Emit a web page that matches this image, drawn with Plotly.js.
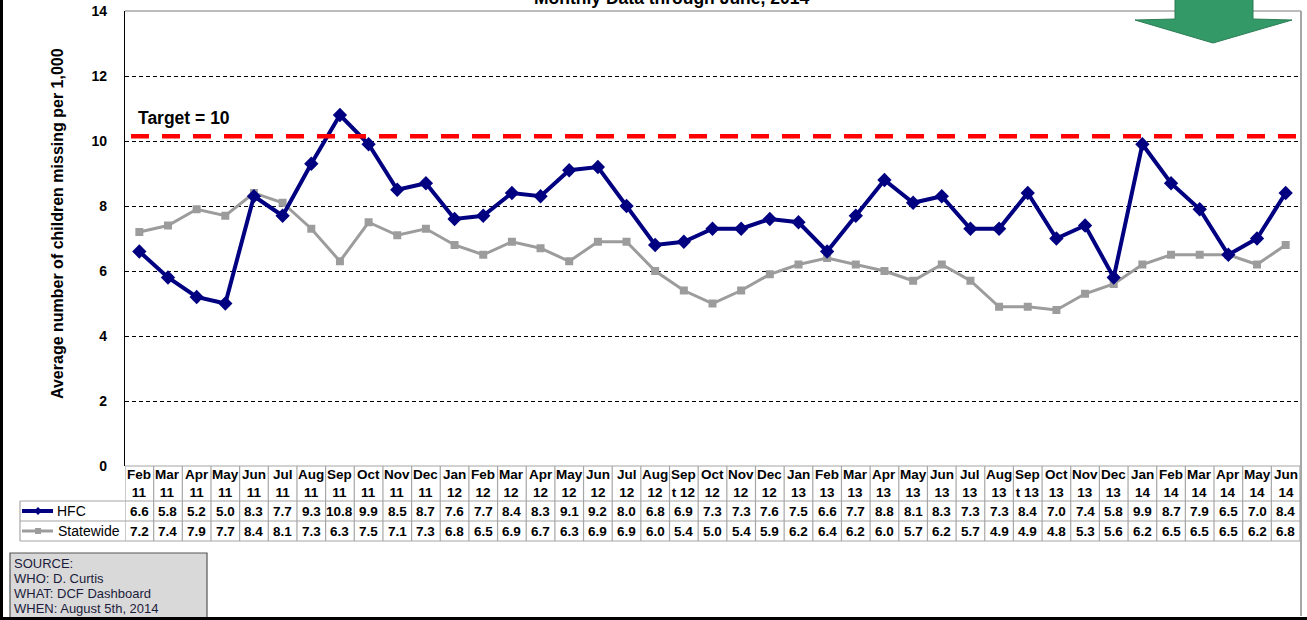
<!DOCTYPE html>
<html>
<head>
<meta charset="utf-8">
<script src="https://cdn.plot.ly/plotly-3.0.1.min.js"></script>
<style>html,body{margin:0;padding:0;background:#fff;}#chart{width:1307px;height:620px;}</style>
</head>
<body>
<div id="chart"></div>
<script>
// ---- Data ----
const months = ["Feb 11","Mar 11","Apr 11","May 11","Jun 11","Jul 11","Aug 11","Sep 11","Oct 11","Nov 11","Dec 11",
  "Jan 12","Feb 12","Mar 12","Apr 12","May 12","Jun 12","Jul 12","Aug 12","Sept 12","Oct 12","Nov 12","Dec 12",
  "Jan 13","Feb 13","Mar 13","Apr 13","May 13","Jun 13","Jul 13","Aug 13","Sept 13","Oct 13","Nov 13","Dec 13",
  "Jan 14","Feb 14","Mar 14","Apr 14","May 14","Jun 14"];
const hfc = [6.6,5.8,5.2,5.0,8.3,7.7,9.3,10.8,9.9,8.5,8.7,
  7.6,7.7,8.4,8.3,9.1,9.2,8.0,6.8,6.9,7.3,7.3,7.6,
  7.5,6.6,7.7,8.8,8.1,8.3,7.3,7.3,8.4,7.0,7.4,5.8,
  9.9,8.7,7.9,6.5,7.0,8.4];
const statewide = [7.2,7.4,7.9,7.7,8.4,8.1,7.3,6.3,7.5,7.1,7.3,
  6.8,6.5,6.9,6.7,6.3,6.9,6.9,6.0,5.4,5.0,5.4,5.9,
  6.2,6.4,6.2,6.0,5.7,6.2,5.7,4.9,4.9,4.8,5.3,5.6,
  6.2,6.5,6.5,6.5,6.2,6.8];
const seriesNames = ["HFC","Statewide"];
const targetLabel = "Target = 10";
const targetLineLevel = 10.15;
const chartTitle = "Monthly Data through June, 2014";
const yTitle = "Average number of children missing per 1,000";
const sourceLines = ["SOURCE:","WHO: D. Curtis","WHAT: DCF Dashboard","WHEN: August 5th, 2014"];

// ---- Geometry helpers (pixel -> paper) ----
const W = 1307, H = 620, L = 125, R = 1300, T = 11, B = 466;
const px = v => (v - L) / (R - L);
const py = v => (B - v) / (B - T);
const FONT = "Liberation Sans, Arial, sans-serif";
const idx = months.map((_, i) => i);

const traces = [
  {x: idx, y: statewide, name: seriesNames[1], type: "scatter", mode: "lines+markers",
   line: {color: "#9c9c9c", width: 3}, marker: {symbol: "square", size: 8, color: "#9c9c9c"}, cliponaxis: false},
  {x: idx, y: hfc, name: seriesNames[0], type: "scatter", mode: "lines+markers",
   line: {color: "#000080", width: 4}, marker: {symbol: "diamond", size: 11, color: "#000080"}, cliponaxis: false}
];

const shapes = [];
const annotations = [];
const gray = "#a6a6a6";
function pline(x0, y0, x1, y1, color, width, dash) {
  shapes.push({type: "line", xref: "paper", yref: "paper", x0: px(x0), y0: py(y0), x1: px(x1), y1: py(y1),
    line: {color: color, width: width, dash: dash || "solid"}, layer: "above"});
}
// target line
shapes.push({type: "line", xref: "paper", yref: "y", x0: px(131), x1: 1, y0: targetLineLevel, y1: targetLineLevel,
  line: {color: "#ff0000", width: 4.5, dash: "18px,13px"}, layer: "above"});
// plot frame
pline(L, T, R + 1, T, gray, 1.5);
pline(R + 1, T, R + 1, 616, gray, 2);
// outer borders
pline(1.5, 0, 1.5, 620, "#000", 3);
pline(0, 618.5, 1307, 618.5, "#000", 3);

// table
pline(L, 466, R, 466, gray, 1.2);
[501, 521, 541].forEach(y => pline(20, y, R, y, gray, 1.2));
pline(20, 501, 20, 541, gray, 1.2);
for (let i = 0; i <= months.length; i++) {
  shapes.push({type: "line", xref: "x", yref: "paper", x0: i - 0.5, x1: i - 0.5, y0: py(466), y1: py(541),
    line: {color: gray, width: 1.2}, layer: "above"});
}
months.forEach((m, i) => {
  annotations.push({xref: "x", yref: "paper", x: i, y: py(483.5), text: m.slice(0, 3) + "<br>" + m.slice(3).trim(),
    showarrow: false, font: {family: FONT, size: 13.5, color: "#000", weight: "bold"}, xanchor: "center", yanchor: "middle"});
  annotations.push({xref: "x", yref: "paper", x: i, y: py(511), text: hfc[i].toFixed(1),
    showarrow: false, font: {family: FONT, size: 13.5, color: "#000", weight: "bold"}, xanchor: "center", yanchor: "middle"});
  annotations.push({xref: "x", yref: "paper", x: i, y: py(531), text: statewide[i].toFixed(1),
    showarrow: false, font: {family: FONT, size: 13.5, color: "#000", weight: "bold"}, xanchor: "center", yanchor: "middle"});
});
// legend keys in table
pline(22, 511, 53, 511, "#000080", 4);
shapes.push({type: "path", xref: "paper", yref: "paper",
  path: `M${px(38)},${py(507)} L${px(42)},${py(511)} L${px(38)},${py(515)} L${px(34)},${py(511)} Z`,
  fillcolor: "#000080", line: {color: "#000080", width: 0}, layer: "above"});
pline(22, 531, 53, 531, "#9c9c9c", 3);
shapes.push({type: "rect", xref: "paper", yref: "paper", x0: px(35), x1: px(41), y0: py(528), y1: py(534),
  fillcolor: "#9c9c9c", line: {width: 0}, layer: "above"});
annotations.push({xref: "paper", yref: "paper", x: px(55), y: py(511), text: seriesNames[0], showarrow: false,
  font: {family: FONT, size: 14, color: "#000"}, xanchor: "left", yanchor: "middle"});
annotations.push({xref: "paper", yref: "paper", x: px(56), y: py(531), text: seriesNames[1], showarrow: false,
  font: {family: FONT, size: 14, color: "#000"}, xanchor: "left", yanchor: "middle"});

// source box
shapes.push({type: "rect", xref: "paper", yref: "paper", x0: px(10), x1: px(207), y0: py(553), y1: py(618),
  fillcolor: "#d9d9d9", line: {color: "#555", width: 1.2}, layer: "below"});
sourceLines.forEach((s, i) => {
  annotations.push({xref: "paper", yref: "paper", x: px(12), y: py(563 + i * 15), text: s, showarrow: false,
    font: {family: FONT, size: 13, color: "#1c1c3c"}, xanchor: "left", yanchor: "middle"});
});

// green down arrow
shapes.push({type: "path", xref: "paper", yref: "paper",
  path: `M${px(1175)},${py(-5)} L${px(1253)},${py(-5)} L${px(1253)},${py(19)} L${px(1292)},${py(20)} L${px(1213)},${py(43)} L${px(1135)},${py(20)} L${px(1175)},${py(19)} Z`,
  fillcolor: "#339966", line: {color: "#2b7d55", width: 1}, layer: "above"});

// titles / labels
annotations.push({xref: "paper", yref: "paper", x: px(671), y: py(-2), text: chartTitle, showarrow: false,
  font: {family: FONT, size: 17.5, color: "#000", weight: "bold"}, xanchor: "center", yanchor: "middle"});
annotations.push({xref: "paper", yref: "paper", x: px(136), y: py(118), text: targetLabel, showarrow: false,
  font: {family: FONT, size: 17.5, color: "#000", weight: "bold"}, xanchor: "left", yanchor: "middle"});
annotations.push({xref: "paper", yref: "paper", x: px(57), y: py(224), text: yTitle, showarrow: false, textangle: -90,
  font: {family: FONT, size: 16, color: "#000", weight: "bold"}, xanchor: "center", yanchor: "middle"});

const layout = {
  width: W, height: H,
  margin: {l: L, r: W - R, t: T, b: H - B, pad: 0},
  paper_bgcolor: "#fff", plot_bgcolor: "#fff",
  showlegend: false,
  xaxis: {range: [-0.5, months.length - 0.5], showticklabels: false, showgrid: false, zeroline: false, showline: false, ticks: "", fixedrange: true},
  yaxis: {range: [0, 14], tickvals: [0,2,4,6,8,10,12,14], showgrid: true, gridcolor: "#000", griddash: "4px,3px", gridwidth: 1,
    zeroline: false, showline: true, linecolor: "#000", linewidth: 1.2, ticks: "", ticklabelstandoff: 14,
    tickfont: {family: FONT, size: 14, color: "#000", weight: "bold"}, fixedrange: true},
  shapes: shapes,
  annotations: annotations
};
Plotly.newPlot("chart", traces, layout, {staticPlot: true, displayModeBar: false});
</script>
</body>
</html>
